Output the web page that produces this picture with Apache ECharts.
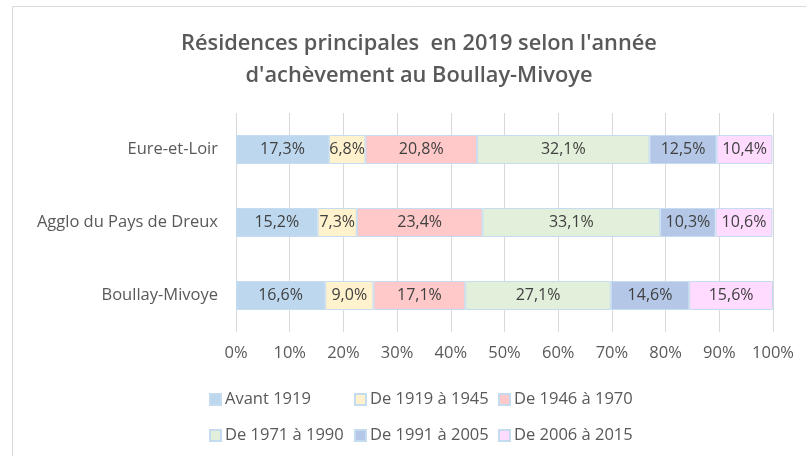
<!DOCTYPE html>
<html><head><meta charset="utf-8">
<script src="https://cdn.jsdelivr.net/npm/echarts@6/dist/echarts.min.js"></script>
<style>html,body{margin:0;padding:0;background:#fff}#c{width:806px;height:456px}</style>
</head><body><div id="c"></div>
<script>
const categories = ["Boullay-Mivoye", "Agglo du Pays de Dreux", "Eure-et-Loir"];
const seriesNames = ["Avant 1919", "De 1919 à 1945", "De 1946 à 1970", "De 1971 à 1990", "De 1991 à 2005", "De 2006 à 2015"];
const avant1919 = [16.6, 15.2, 17.3];
const de1919a1945 = [9.0, 7.3, 6.8];
const de1946a1970 = [17.1, 23.4, 20.8];
const de1971a1990 = [27.1, 33.1, 32.1];
const de1991a2005 = [14.6, 10.3, 12.5];
const de2006a2015 = [15.6, 10.6, 10.4];
const xTicks = ["0%","10%","20%","30%","40%","50%","60%","70%","80%","90%","100%"];

const values = [avant1919, de1919a1945, de1946a1970, de1971a1990, de1991a2005, de2006a2015];
const colors = ["#bdd7ee", "#fff2cc", "#ffc9c9", "#e2efda", "#b4c7e7", "#ffdbff"];
const font = "'Open Sans', 'Liberation Sans', sans-serif";

const chart = echarts.init(document.getElementById('c'), null, {renderer: 'canvas'});
const series = seriesNames.map((n, i) => ({
  name: n, type: 'bar', stack: 'total', barWidth: 29,
  data: values[i],
  itemStyle: {color: colors[i], borderColor: '#c5dcf0', borderWidth: 1},
  label: {show: true, position: 'inside', color: '#404040', fontSize: 16, fontFamily: font,
    formatter: p => p.value.toFixed(1).replace('.', ',') + '%'}
}));
const cols = [[0, 3], [1, 4], [2, 5]];
const colLeft = [204, 349, 493];
const legends = cols.map((c, k) => ({
  data: c.map(i => seriesNames[i]),
  orient: 'vertical', left: colLeft[k], top: 386, itemGap: 19,
  itemWidth: 11, itemHeight: 11, icon: 'rect',
  textStyle: {color: '#595959', fontSize: 16.5, fontFamily: font, padding: [0,0,0,-1]}
}));
chart.setOption({
  animation: false,
  backgroundColor: '#fff',
  color: colors,
  title: {
    text: "Résidences principales  en 2019 selon l'année\nd'achèvement au Boullay-Mivoye",
    left: 414, textAlign: 'center', top: 23,
    textStyle: {color: '#595959', fontSize: 21.8, fontWeight: 600, fontFamily: font, lineHeight: 32}
  },
  graphic: [{type: 'rect', shape: {x: 12.5, y: 6.5, width: 800, height: 460},
    style: {fill: 'none', stroke: '#d9d9d9', lineWidth: 1}, silent: true}],
  legend: legends,
  grid: {left: 236, right: 33, top: 113, height: 219},
  xAxis: {
    type: 'value', min: 0, max: 100, interval: 10,
    axisLine: {show: false}, axisTick: {show: false},
    splitLine: {lineStyle: {color: '#d9d9d9'}},
    axisLabel: {color: '#595959', fontSize: 16.5, fontFamily: font, margin: 13,
      formatter: v => xTicks[Math.round(v / 10)]}
  },
  yAxis: {
    type: 'category', data: categories,
    axisLine: {show: false}, axisTick: {show: false},
    axisLabel: {color: '#595959', fontSize: 16.5, fontFamily: font, margin: 18}
  },
  series: series
});
</script></body></html>
